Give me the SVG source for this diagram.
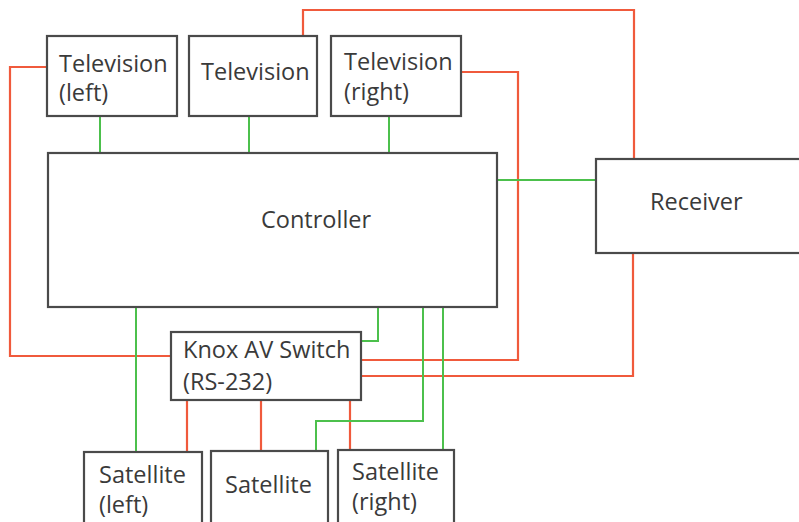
<svg xmlns="http://www.w3.org/2000/svg" width="799" height="522" viewBox="0 0 799 522">
<style>
.box{fill:#fff;stroke:#4a4a4a;stroke-width:2.2}
.t{font-family:"Open Sans","Liberation Sans",sans-serif;font-size:23.5px;fill:#3a3a3a}
.r{fill:none;stroke:#f05a3c;stroke-width:2.2}
.g{fill:none;stroke:#4cc04c;stroke-width:2}
</style>
<rect width="799" height="522" fill="#fff"/>
<g id="connectors">
<polyline class="r" points="47,67 10,67 10,356 171,356"/>
<polyline class="r" points="303,35 303,10 634,10 634,159"/>
<polyline class="r" points="461,72 518,72 518,360 358,360"/>
<polyline class="r" points="633,253 633,376 361,376"/>
<line class="r" x1="187" y1="400" x2="187" y2="452"/>
<line class="r" x1="261" y1="400" x2="261" y2="451"/>
<line class="r" x1="350" y1="400" x2="350" y2="450"/>
<line class="g" x1="100" y1="117" x2="100" y2="153"/>
<line class="g" x1="249" y1="117" x2="249" y2="153"/>
<line class="g" x1="389" y1="117" x2="389" y2="153"/>
<line class="g" x1="497" y1="180" x2="596" y2="180"/>
<polyline class="g" points="378,307 378,341 358,341"/>
<line class="g" x1="136" y1="307" x2="136" y2="452"/>
<polyline class="g" points="423,307 423,421 316,421 316,451"/>
<line class="g" x1="443" y1="307" x2="443" y2="450"/>
</g>
<g id="tv-left"><rect class="box" x="47" y="36" width="130" height="80"/><text class="t" x="59" y="72">Television</text><text class="t" x="59" y="101">(left)</text></g>
<g id="tv-center"><rect class="box" x="189" y="36" width="128" height="80"/><text class="t" x="201" y="80">Television</text></g>
<g id="tv-right"><rect class="box" x="331" y="36" width="130" height="80"/><text class="t" x="344" y="70">Television</text><text class="t" x="344" y="100">(right)</text></g>
<g id="controller"><rect class="box" x="48" y="153" width="449" height="154"/><text class="t" x="261" y="228">Controller</text></g>
<g id="receiver"><rect class="box" x="596" y="159" width="210" height="94"/><text class="t" x="650" y="210">Receiver</text></g>
<g id="knox"><rect class="box" x="171" y="332" width="190" height="68"/><text class="t" x="183" y="358">Knox AV Switch</text><text class="t" x="183" y="390">(RS-232)</text></g>
<g id="sat-left"><rect class="box" x="84" y="452" width="118" height="80"/><text class="t" x="99" y="483">Satellite</text><text class="t" x="99" y="513">(left)</text></g>
<g id="sat-center"><rect class="box" x="211" y="451" width="117" height="80"/><text class="t" x="225" y="493">Satellite</text></g>
<g id="sat-right"><rect class="box" x="338" y="450" width="116" height="80"/><text class="t" x="352" y="480">Satellite</text><text class="t" x="352" y="510">(right)</text></g>
</svg>
